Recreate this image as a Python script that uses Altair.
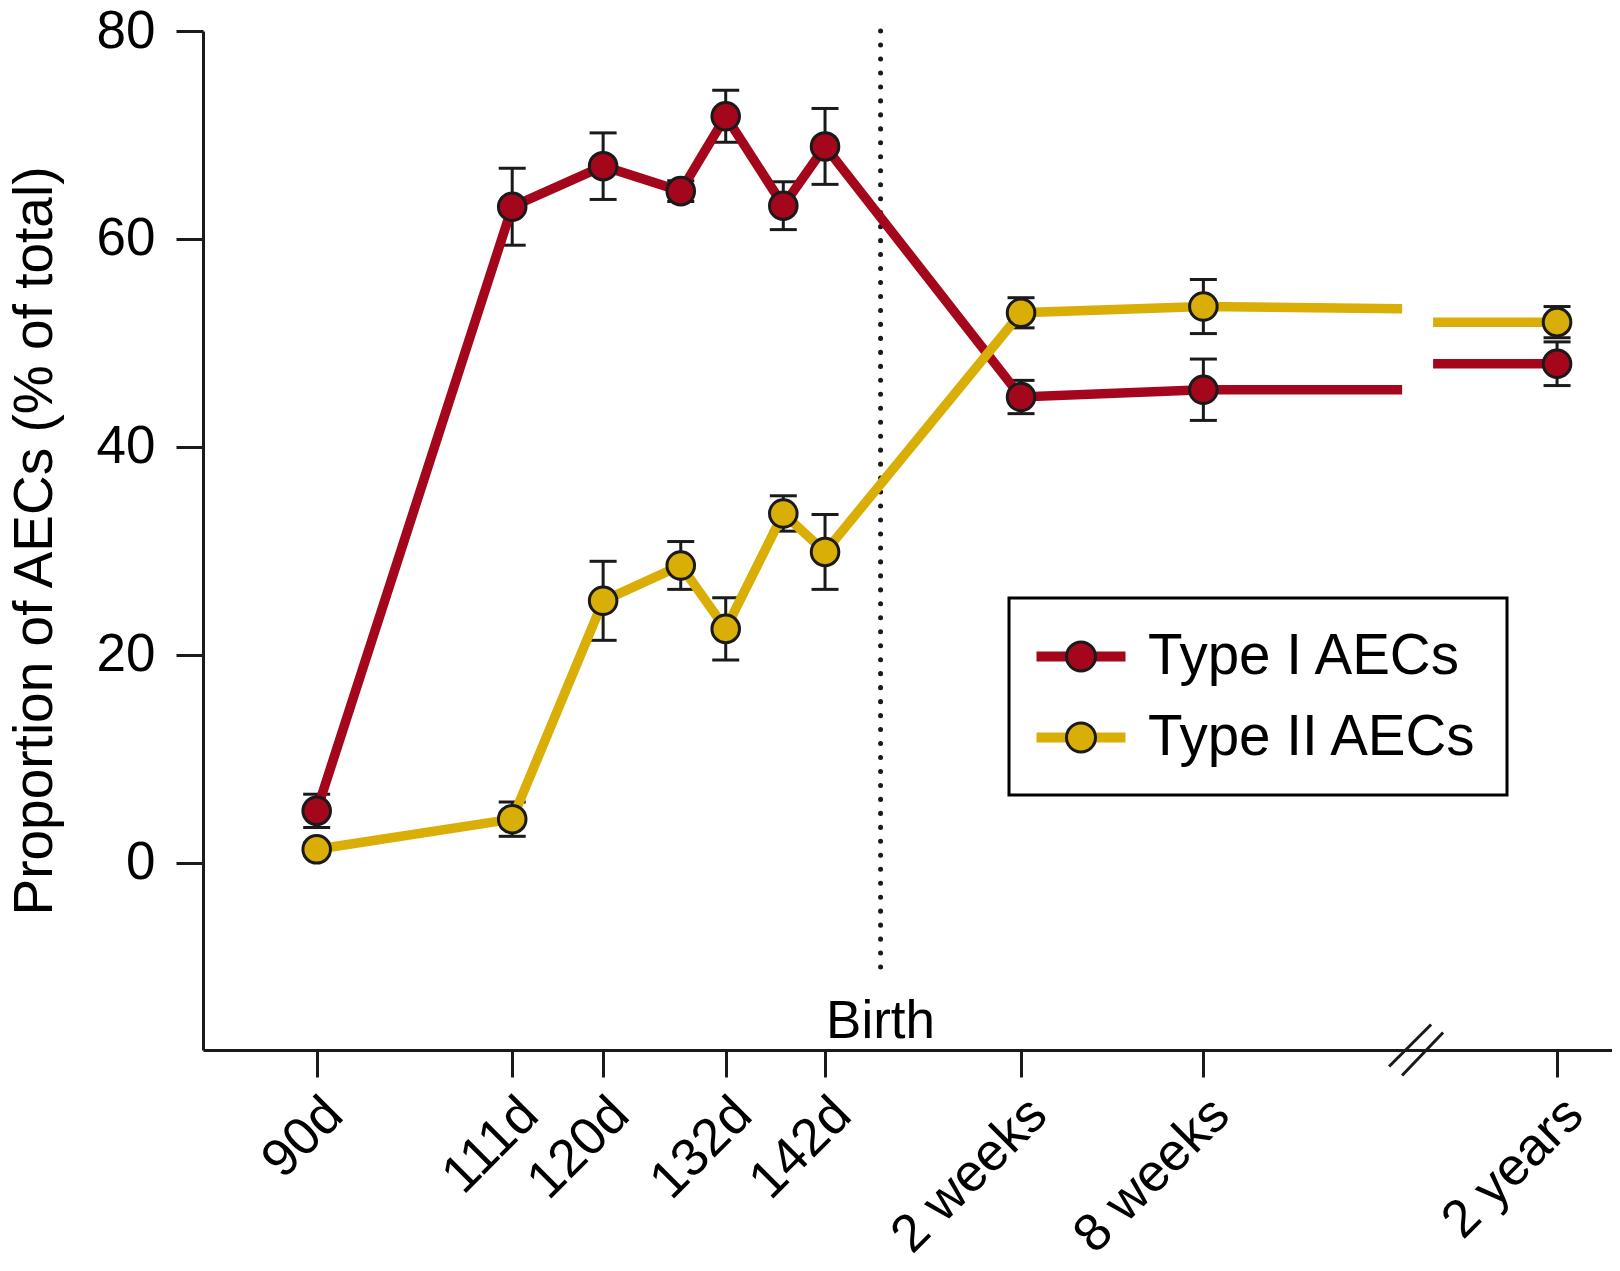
import altair as alt
import pandas as pd

# ---- data ----
series_names = ["Type I AECs", "Type II AECs"]
timepoints = ["90d", "111d", "120d", "126d", "132d", "137d", "142d", "2 weeks", "8 weeks", "2 years"]
x_pos = [90, 110.0, 119.3, 127.24, 131.84, 137.73, 142, 162.05, 180.7, 216.88]
type1_mean = [5.0, 63.1, 67.0, 64.6, 71.8, 63.2, 68.9, 44.8, 45.5, 48.0]
type1_sem = [1.6, 3.7, 3.2, 1.0, 2.5, 2.3, 3.65, 1.6, 2.95, 2.1]
type2_mean = [1.3, 4.2, 25.2, 28.6, 22.5, 33.6, 29.9, 52.9, 53.5, 52.0]
type2_sem = [0.6, 1.65, 3.8, 2.3, 3.0, 1.7, 3.6, 1.45, 2.6, 1.5]

tick_pos = [90, 110.0, 119.3, 131.84, 142, 162.05, 180.7, 216.88]
tick_labels = ["90d", "111d", "120d", "132d", "142d", "2 weeks", "8 weeks", "2 years"]
y_ticks = [0, 20, 40, 60, 80]

birth_pos = 147.68
birth_top, birth_bottom, birth_label_y = 80, -10.8, -16.8
break_left, break_right, break_mark_x, break_mark_y = 201.03, 204.2, 202.46, -18.0
type1_break = [45.5, 48.0]
type2_break = [53.3, 52.0]

x_domain = [78.37, 222.5]
y_domain = [-18, 80]

RED = "#A4061C"
YELLOW = "#D9AE06"
DARK = "#1a1a1a"
FONT = "Liberation Sans"

# ---- tables ----
rows = []
for name, means, sems in [(series_names[0], type1_mean, type1_sem), (series_names[1], type2_mean, type2_sem)]:
    for t, x, m, s in zip(timepoints, x_pos, means, sems):
        rows.append({"series": name, "time": t, "x": x, "mean": m, "lo": m - s, "hi": m + s})
pts = pd.DataFrame(rows)

lrows = []
for name, means, brk in [(series_names[0], type1_mean, type1_break), (series_names[1], type2_mean, type2_break)]:
    for x, m in zip(x_pos[:-1], means[:-1]):
        lrows.append({"series": name, "seg": 0, "x": x, "y": m})
    lrows.append({"series": name, "seg": 0, "x": break_left, "y": brk[0]})
    lrows.append({"series": name, "seg": 1, "x": break_right, "y": brk[1]})
    lrows.append({"series": name, "seg": 1, "x": x_pos[-1], "y": means[-1]})
lines = pd.DataFrame(lrows)

birth = pd.DataFrame([{"x": birth_pos, "top": birth_top, "bottom": birth_bottom,
                       "ly": birth_label_y, "label": "Birth"}])
brk = pd.DataFrame([{"x": break_mark_x, "y": break_mark_y}])

labels_js = "[" + ",".join("'" + l + "'" for l in tick_labels) + "]"
pos_js = "[" + ",".join(f"{p:g}" for p in tick_pos) + "]"
label_expr = f"{labels_js}[indexof({pos_js}, datum.value)]"

xscale = alt.Scale(domain=x_domain, nice=False, zero=False)
yscale = alt.Scale(domain=y_domain, nice=False, zero=False)

x_axis = alt.Axis(values=tick_pos, labelExpr=label_expr, labelAngle=315, labelAlign="right",
                  labelBaseline="middle", labelFontSize=53, labelFont=FONT, labelColor="black",
                  labelPadding=29, labelOffset=17, labelOverlap=False, labelBound=False,
                  labelFlush=False, labelLimit=2000, tickSize=27, tickWidth=3, tickColor=DARK,
                  domainWidth=3, domainColor=DARK, grid=False, title=None)
y_axis = alt.Axis(values=y_ticks, labelFontSize=53, labelFont=FONT, labelColor="black",
                  labelPadding=21, labelLimit=2000, tickSize=27, tickWidth=3, tickColor=DARK,
                  domainWidth=3, domainColor=DARK, grid=False,
                  title="Proportion of AECs (% of total)", titleFont=FONT, titleFontSize=55,
                  titleFontWeight="normal", titleColor="black", titleX=-152, titleY=509.5,
                  titleAngle=270, titleAlign="center", titleBaseline="alphabetic", titleLimit=3000)

X = lambda f: alt.X(f, type="quantitative", scale=xscale, axis=x_axis)
Y = lambda f: alt.Y(f, type="quantitative", scale=yscale, axis=y_axis)

dotted = alt.Chart(birth).mark_rule(strokeDash=[0.1, 13.87], strokeCap="round",
                                    strokeWidth=5, color=DARK).encode(
    x=X("x"), y=Y("top"), y2="bottom")

birth_text = alt.Chart(birth).mark_text(font=FONT, fontSize=53, baseline="alphabetic",
                                        align="center", color="black").encode(
    x=X("x"), y=Y("ly"), text="label:N")

err = alt.Chart(pts).mark_rule(strokeWidth=3, color=DARK).encode(x=X("x"), y=Y("lo"), y2="hi")
cap_lo = alt.Chart(pts).mark_tick(orient="horizontal", size=27, thickness=3, color=DARK, opacity=1).encode(
    x=X("x"), y=Y("lo"))
cap_hi = alt.Chart(pts).mark_tick(orient="horizontal", size=27, thickness=3, color=DARK, opacity=1).encode(
    x=X("x"), y=Y("hi"))

legend_common = dict(title=None, orient="none", legendX=806, legendY=567, padding=28.5,
                     rowPadding=22, symbolOffset=13.5, labelOffset=37, labelLimit=2000,
                     labelFont=FONT, labelFontSize=56.5, labelColor="black", labelBaseline="middle")

line_legend = alt.Legend(symbolType="M-1.78,0L1.78,0", symbolSize=2500, symbolStrokeWidth=10,
                         strokeColor="black", zindex=0, **legend_common)
point_legend = alt.Legend(symbolType="M0.509,0A0.509,0.509 0 1,1 -0.509,0A0.509,0.509 0 1,1 0.509,0Z",
                          symbolSize=3249, symbolStrokeWidth=3, symbolStrokeColor=DARK,
                          symbolOpacity=1, labelOpacity=0, zindex=1, **legend_common)

line_layer = alt.Chart(lines).mark_line(strokeWidth=9.5).encode(
    x=X("x"), y=Y("y"),
    color=alt.Color("series:N", scale=alt.Scale(range=[RED, YELLOW]), legend=line_legend),
    detail="seg:N", order="x:Q")

point_layer = alt.Chart(pts).transform_calculate(series_fill="datum.series").mark_circle(
    size=760, stroke=DARK, strokeWidth=3, opacity=1).encode(
    x=X("x"), y=Y("mean"),
    fill=alt.Fill("series_fill:N", scale=alt.Scale(range=[RED, YELLOW]), legend=point_legend))

break_marks = alt.Chart(brk).mark_point(
    shape="M-1,0.61L0.556,-0.944M-0.52,0.944L1,-0.648", size=2916, filled=False,
    stroke=DARK, strokeWidth=3, opacity=1).encode(x=X("x"), y=Y("y"))

chart = alt.layer(dotted, birth_text, err, cap_lo, cap_hi, line_layer, point_layer, break_marks).properties(
    width=1409, height=1019,
    autosize=alt.AutoSizeParams(type="none"),
    padding={"left": 195, "top": 23, "right": 0, "bottom": 220},
).resolve_scale(color="independent", fill="independent").configure_view(
    strokeWidth=0).configure_legend(strokeWidth=3)

chart.save("out.html", embed_options={"renderer": "svg", "actions": False})
